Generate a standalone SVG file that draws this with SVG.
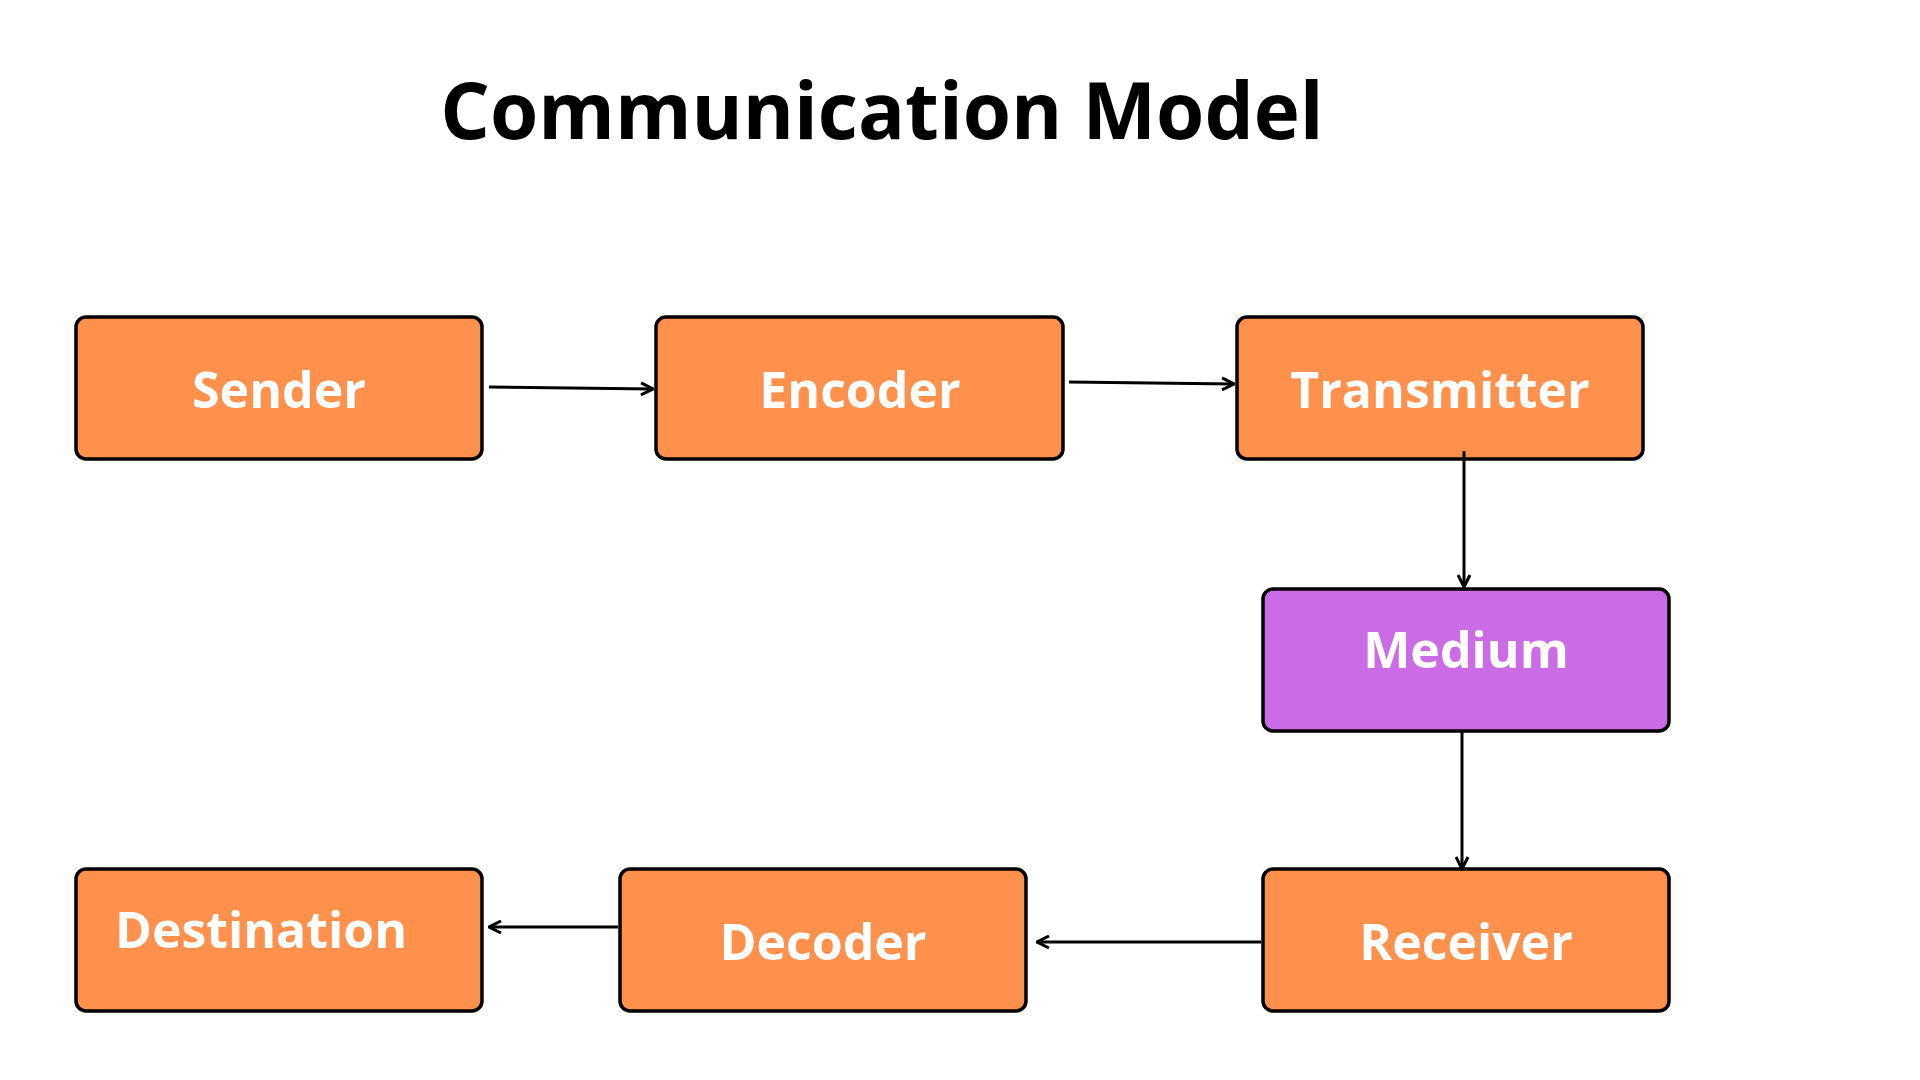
<svg xmlns="http://www.w3.org/2000/svg" width="1920" height="1080" viewBox="0 0 1920 1080">
<style>
.box{fill:#FF914D;stroke:#000;stroke-width:3.5}
.med{fill:#CB6CE6;stroke:#000;stroke-width:3.5}
.lbl{font-family:"Open Sans","Liberation Sans",sans-serif;font-weight:bold;font-size:50px;fill:#fff;text-anchor:middle;dominant-baseline:central}
.ttl{font-family:"Open Sans","Liberation Sans",sans-serif;font-weight:bold;font-size:78px;fill:#000;text-anchor:middle}
.con line{stroke:#000;stroke-width:3;marker-end:url(#ah)}
</style>
<defs>
<marker id="ah" viewBox="0 0 10 10" refX="9" refY="5" markerWidth="5" markerHeight="5" orient="auto" markerUnits="strokeWidth">
<path d="M1,1 L9,5 L1,9" fill="none" stroke="#000" stroke-width="2"/>
</marker>
</defs>
<rect width="1920" height="1080" fill="#fff"/>
<text class="ttl" x="882" y="139">Communication Model</text>
<g id="sender"><rect class="box" x="76" y="317" width="406" height="142" rx="10"/><text class="lbl" x="279" y="389">Sender</text></g>
<g id="encoder"><rect class="box" x="656" y="317" width="407" height="142" rx="10"/><text class="lbl" x="860" y="389">Encoder</text></g>
<g id="transmitter"><rect class="box" x="1237" y="317" width="406" height="142" rx="10"/><text class="lbl" x="1440" y="389">Transmitter</text></g>
<g id="medium"><rect class="med" x="1263" y="589" width="406" height="142" rx="10"/><text class="lbl" x="1466" y="649">Medium</text></g>
<g id="receiver"><rect class="box" x="1263" y="869" width="406" height="142" rx="10"/><text class="lbl" x="1466" y="941">Receiver</text></g>
<g id="decoder"><rect class="box" x="620" y="869" width="406" height="142" rx="10"/><text class="lbl" x="823" y="941">Decoder</text></g>
<g id="destination"><rect class="box" x="76" y="869" width="406" height="142" rx="10"/><text class="lbl" x="261" y="929">Destination</text></g>
<g id="connectors" class="con">
<line x1="489" y1="387" x2="653" y2="389"/>
<line x1="1069" y1="382" x2="1234" y2="384"/>
<line x1="1464" y1="451" x2="1464" y2="587"/>
<line x1="1462" y1="732" x2="1462" y2="869"/>
<line x1="1261" y1="942" x2="1037" y2="942"/>
<line x1="618" y1="927" x2="489" y2="927"/>
</g>
</svg>
